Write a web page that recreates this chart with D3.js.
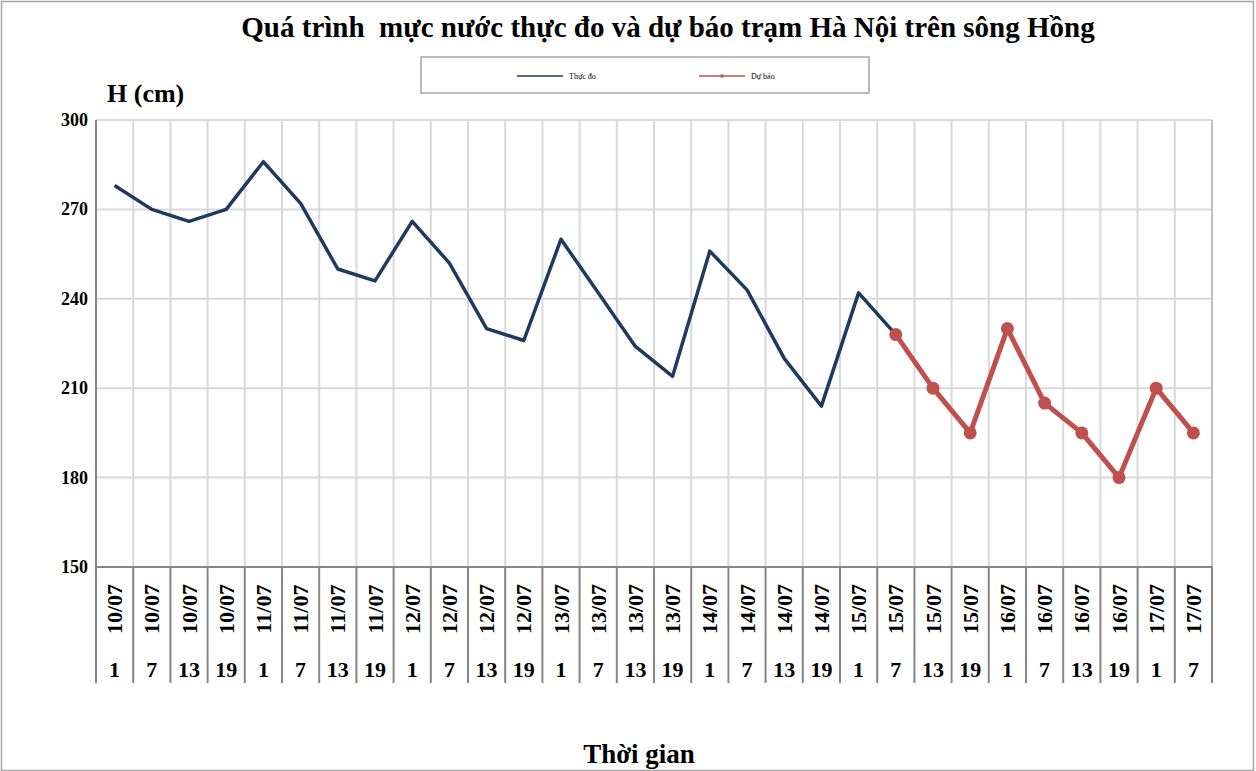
<!DOCTYPE html>
<html>
<head>
<meta charset="utf-8">
<script src="https://cdn.jsdelivr.net/npm/d3@7"></script>
<style>
  body { margin: 0; background: #fff; }
  text { font-family: "Liberation Serif", "Times New Roman", serif; font-weight: bold; fill: #000; }
</style>
</head>
<body>
<div id="chart"></div>
<script>
// dates and hours on the two-row category axis
const dates = ["10/07","10/07","10/07","10/07","11/07","11/07","11/07","11/07",
  "12/07","12/07","12/07","12/07","13/07","13/07","13/07","13/07",
  "14/07","14/07","14/07","14/07","15/07","15/07","15/07","15/07",
  "16/07","16/07","16/07","16/07","17/07","17/07"];
const hours = [1,7,13,19,1,7,13,19,1,7,13,19,1,7,13,19,1,7,13,19,1,7,13,19,1,7,13,19,1,7];
const thucDo = [278,270,266,270,286,272,250,246,266,252,230,226,260,242,224,214,256,243,220,204,242,228];
const duBao = [null,null,null,null,null,null,null,null,null,null,null,null,null,null,null,null,null,null,null,null,null,
  228,210,195,230,205,195,180,210,195];
const yTicks = [150,180,210,240,270,300];

const W = 1256, H = 771;
const m = {left: 96, right: 1212, top: 120, bottom: 567};

const svg = d3.select("#chart").append("svg")
  .attr("width", W).attr("height", H);

svg.append("rect")
  .attr("x", 1.5).attr("y", 1.5).attr("width", W - 4).attr("height", H - 2)
  .attr("fill", "#fff").attr("stroke", "#a6a6a6").attr("stroke-width", 1.5);

const x = d3.scaleBand().domain(d3.range(dates.length)).range([m.left, m.right]);
const y = d3.scaleLinear().domain([150, 300]).range([m.bottom, m.top]);

// grid
const grid = svg.append("g");
grid.selectAll(".hg").data(yTicks.filter(d => d > 150)).enter().append("line")
  .attr("x1", m.left).attr("x2", m.right)
  .attr("y1", d => y(d)).attr("y2", d => y(d))
  .attr("stroke", "#d9d9d9").attr("stroke-width", 2);
grid.selectAll(".vg").data(d3.range(1, dates.length + 1)).enter().append("line")
  .attr("x1", d => d < dates.length ? x(d) : m.right)
  .attr("x2", d => d < dates.length ? x(d) : m.right)
  .attr("y1", m.top).attr("y2", m.bottom)
  .attr("stroke", d => d < dates.length ? "#d9d9d9" : "#bfbfbf").attr("stroke-width", 2);

// axes
svg.append("line").attr("x1", m.left).attr("x2", m.left)
  .attr("y1", m.top).attr("y2", m.bottom + 116)
  .attr("stroke", "#868686").attr("stroke-width", 2);
svg.append("line").attr("x1", m.left).attr("x2", m.right)
  .attr("y1", m.bottom).attr("y2", m.bottom)
  .attr("stroke", "#868686").attr("stroke-width", 2);

// category table separators
svg.append("g").selectAll("line").data(d3.range(1, dates.length + 1)).enter().append("line")
  .attr("x1", d => d < dates.length ? x(d) : m.right)
  .attr("x2", d => d < dates.length ? x(d) : m.right)
  .attr("y1", m.bottom).attr("y2", m.bottom + 116)
  .attr("stroke", "#868686").attr("stroke-width", 2);

// y tick labels
svg.append("g").selectAll("text").data(yTicks).enter().append("text")
  .attr("x", m.left - 8).attr("y", d => y(d) + 6)
  .attr("text-anchor", "end").attr("font-size", 18)
  .text(d => d);

// category labels
const cat = svg.append("g");
cat.selectAll(".date").data(dates).enter().append("text")
  .attr("transform", (d, i) => `translate(${x(i) + x.bandwidth() / 2 + 7.5},609) rotate(-90)`)
  .attr("text-anchor", "middle").attr("font-size", 22)
  .text(d => d);
cat.selectAll(".hour").data(hours).enter().append("text")
  .attr("x", (d, i) => x(i) + x.bandwidth() / 2)
  .attr("y", 677)
  .attr("text-anchor", "middle").attr("font-size", 22)
  .text(d => d);

// series
const line = d3.line()
  .defined(d => d != null)
  .x((d, i) => x(i) + x.bandwidth() / 2)
  .y(d => y(d));

svg.append("path").datum(thucDo)
  .attr("fill", "none").attr("stroke", "#1f3a5f").attr("stroke-width", 3.5)
  .attr("stroke-linejoin", "round")
  .attr("d", line);

svg.append("path").datum(duBao)
  .attr("fill", "none").attr("stroke", "#c0504d").attr("stroke-width", 5)
  .attr("stroke-linejoin", "round")
  .attr("d", line);

svg.append("g").selectAll("circle")
  .data(duBao.map((v, i) => ({v, i})).filter(d => d.v != null))
  .enter().append("circle")
  .attr("cx", d => x(d.i) + x.bandwidth() / 2)
  .attr("cy", d => y(d.v))
  .attr("r", 6.5).attr("fill", "#c0504d");

// title and axis titles
svg.append("text").attr("x", 668).attr("y", 37)
  .attr("text-anchor", "middle").attr("font-size", 29)
  .attr("xml:space", "preserve")
  .text("Quá trình  mực nước thực đo và dự báo trạm Hà Nội trên sông Hồng");
svg.append("text").attr("x", 107).attr("y", 102)
  .attr("font-size", 26).text("H (cm)");
svg.append("text").attr("x", 639).attr("y", 763)
  .attr("text-anchor", "middle").attr("font-size", 27).text("Thời gian");

// legend
const leg = svg.append("g");
leg.append("rect").attr("x", 421).attr("y", 57).attr("width", 448).attr("height", 36)
  .attr("fill", "#fff").attr("stroke", "#a6a6a6").attr("stroke-width", 1.5);
const legItems = [
  {name: "Thực đo", color: "#1f3a5f", x0: 517, marker: false},
  {name: "Dự báo", color: "#c0504d", x0: 699, marker: true}
];
legItems.forEach(d => {
  leg.append("line").attr("x1", d.x0).attr("x2", d.x0 + 46)
    .attr("y1", 76).attr("y2", 76)
    .attr("stroke", d.color).attr("stroke-width", 1.5);
  if (d.marker) leg.append("circle").attr("cx", d.x0 + 23).attr("cy", 76).attr("r", 1.8).attr("fill", d.color);
  leg.append("text").attr("x", d.x0 + 52).attr("y", 79)
    .attr("font-size", 8).style("font-weight", "normal")
    .text(d.name);
});
</script>
</body>
</html>
